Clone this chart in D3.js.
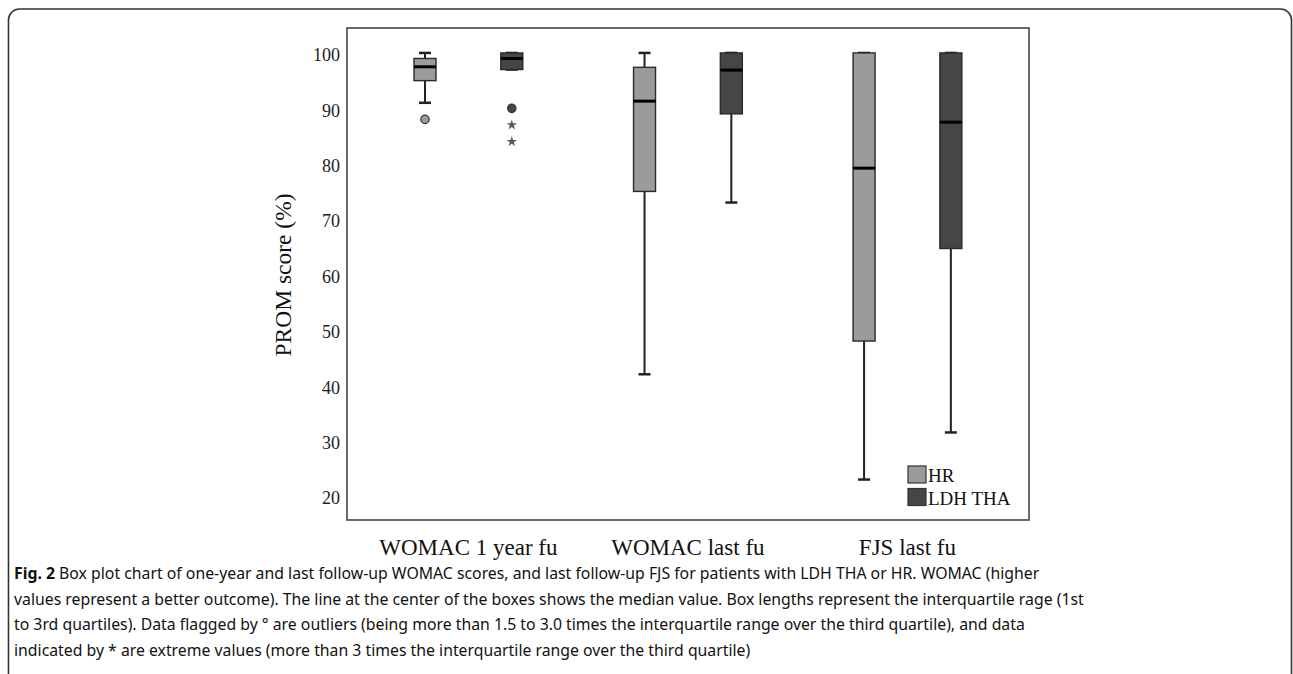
<!DOCTYPE html>
<html>
<head>
<meta charset="utf-8">
<script src="https://cdn.jsdelivr.net/npm/d3@7"></script>
<style>
body{margin:0;background:#fff;}
</style>
</head>
<body>
<div id="svgContainer"></div>
<script>
// data
var categories = ["WOMAC 1 year fu","WOMAC last fu","FJS last fu"];
var groups = ["HR","LDH THA"];
var hrMin = [91, 42, 23];
var hrQ1  = [95, 75, 48];
var hrMed = [97.5, 91.3, 79.2];
var hrQ3  = [99, 97.4, 100];
var hrMax = [100, 100, 100];
var ldhMin = [97, 73, 31.5];
var ldhQ1  = [97, 89, 64.7];
var ldhMed = [99, 96.9, 87.5];
var ldhQ3  = [100, 100, 100];
var ldhMax = [100, 100, 100];
// outliers (circle) and extreme values (star)
var outCat = ["WOMAC 1 year fu","WOMAC 1 year fu"];
var outGroup = ["HR","LDH THA"];
var outVal = [88, 90];
var extCat = ["WOMAC 1 year fu","WOMAC 1 year fu"];
var extGroup = ["LDH THA","LDH THA"];
var extVal = [87, 84];
var yTicks = [20,30,40,50,60,70,80,90,100];

var svgWidth = 1293, svgHeight = 674;
var colors = {"HR":"#9b9b9b","LDH THA":"#464646"};

var svg = d3.select("#svgContainer").append("svg")
	.attr("width",svgWidth)
	.attr("height",svgHeight)
	.style("display","block");

var plot = {left:347,top:28,right:1029,bottom:520};

// figure frame, open at the bottom
svg.append("rect")
	.attr("x",8.5).attr("y",9)
	.attr("width",1283).attr("height",720)
	.attr("rx",11)
	.attr("fill","none")
	.attr("stroke","#333")
	.attr("stroke-width",1.6);

var y = d3.scaleLinear().domain([15.7,104.5]).range([plot.bottom,plot.top]);
var x0 = d3.scaleBand().domain(categories).range([358.6,1017.2]);
var x1 = d3.scalePoint().domain(groups).range([66.4,153.2]);

// boxes
var boxes = [];
for(var i = 0; i < categories.length; i++){
	boxes.push({cat:categories[i],g:"HR",min:hrMin[i],q1:hrQ1[i],med:hrMed[i],q3:hrQ3[i],max:hrMax[i]});
	boxes.push({cat:categories[i],g:"LDH THA",min:ldhMin[i],q1:ldhQ1[i],med:ldhMed[i],q3:ldhQ3[i],max:ldhMax[i]});
}
function cx(d){ return x0(d.cat) + x1(d.g); }
var bw = 22, cap = 12;

svg.append("rect")
	.attr("x",plot.left).attr("y",plot.top)
	.attr("width",plot.right-plot.left).attr("height",plot.bottom-plot.top)
	.attr("fill","none")
	.attr("stroke","#444")
	.attr("stroke-width",1.6);

var b = svg.selectAll(".box").data(boxes).enter().append("g").attr("class","box");

b.append("line")
	.attr("x1",cx).attr("x2",cx)
	.attr("y1",function(d){return y(d.max)})
	.attr("y2",function(d){return y(d.min)})
	.attr("stroke","#222").attr("stroke-width",2);
b.append("line")
	.attr("x1",function(d){return cx(d)-cap/2}).attr("x2",function(d){return cx(d)+cap/2})
	.attr("y1",function(d){return y(d.max)}).attr("y2",function(d){return y(d.max)})
	.attr("stroke","#222").attr("stroke-width",2.5);
b.append("line")
	.attr("x1",function(d){return cx(d)-cap/2}).attr("x2",function(d){return cx(d)+cap/2})
	.attr("y1",function(d){return y(d.min)}).attr("y2",function(d){return y(d.min)})
	.attr("stroke","#222").attr("stroke-width",2.5);
b.append("rect")
	.attr("x",function(d){return cx(d)-bw/2})
	.attr("y",function(d){return y(d.q3)})
	.attr("width",bw)
	.attr("height",function(d){return y(d.q1)-y(d.q3)})
	.attr("fill",function(d){return colors[d.g]})
	.attr("stroke","#2a2a2a").attr("stroke-width",1.4);
b.append("line")
	.attr("x1",function(d){return cx(d)-bw/2}).attr("x2",function(d){return cx(d)+bw/2})
	.attr("y1",function(d){return y(d.med)}).attr("y2",function(d){return y(d.med)})
	.attr("stroke","#000").attr("stroke-width",3);

// outliers
svg.selectAll(".out").data(outVal).enter().append("circle")
	.attr("class","out")
	.attr("cx",function(d,i){return x0(outCat[i])+x1(outGroup[i])})
	.attr("cy",function(d){return y(d)})
	.attr("r",4.2)
	.attr("fill",function(d,i){return colors[outGroup[i]]})
	.attr("stroke","#333").attr("stroke-width",1.2);

svg.selectAll(".ext").data(extVal).enter().append("path")
	.attr("class","ext")
	.attr("d",d3.symbol().type(d3.symbolStar).size(34))
	.attr("transform",function(d,i){return "translate("+(x0(extCat[i])+x1(extGroup[i]))+","+y(d)+")"})
	.attr("fill","#5a5a5a");

// y axis labels
var yaxis = svg.append("g")
	.attr("transform","translate("+plot.left+",2)")
	.call(d3.axisLeft(y).tickValues(yTicks).tickSize(0).tickPadding(7));
yaxis.select(".domain").remove();
yaxis.selectAll("text")
	.attr("font-family","'Liberation Serif', 'Times New Roman', serif")
	.attr("font-size",18)
	.attr("fill","#222");

svg.append("text")
	.attr("transform","translate(291,275) rotate(-90)")
	.attr("text-anchor","middle")
	.attr("font-family","'Liberation Serif', serif")
	.attr("font-size",23.5)
	.attr("fill","#111")
	.text("PROM score (%)");

// category labels
svg.selectAll(".cat").data(categories).enter().append("text")
	.attr("class","cat")
	.attr("x",function(d){return x0(d)+x0.bandwidth()/2})
	.attr("y",555)
	.attr("text-anchor","middle")
	.attr("font-family","'Liberation Serif', serif")
	.attr("font-size",23)
	.attr("fill","#111")
	.text(function(d){return d});

// legend
var legend = svg.selectAll(".legend").data(groups).enter().append("g")
	.attr("class","legend")
	.attr("transform",function(d,i){return "translate(908,"+(466+i*22.5)+")"});
legend.append("rect")
	.attr("width",18).attr("height",17)
	.attr("fill",function(d){return colors[d]})
	.attr("stroke","#333").attr("stroke-width",1.2);
legend.append("text")
	.attr("x",20).attr("y",16)
	.attr("font-family","'Liberation Serif', serif")
	.attr("font-size",19)
	.attr("fill","#111")
	.text(function(d){return d});

// caption
var capLines = [
	["Fig. 2"," Box plot chart of one-year and last follow-up WOMAC scores, and last follow-up FJS for patients with LDH THA or HR. WOMAC (higher"],
	["","values represent a better outcome). The line at the center of the boxes shows the median value. Box lengths represent the interquartile rage (1st"],
	["","to 3rd quartiles). Data flagged by \u00b0 are outliers (being more than 1.5 to 3.0 times the interquartile range over the third quartile), and data"],
	["","indicated by * are extreme values (more than 3 times the interquartile range over the third quartile)"]
];
var caption = svg.append("g");
capLines.forEach(function(l,i){
	var t = caption.append("text")
		.attr("x",14)
		.attr("y",579+i*25.5)
		.attr("font-family","'Noto Sans', sans-serif")
		.attr("font-size",15.8)
		.attr("fill","#111");
	if(l[0]) t.append("tspan").attr("font-weight","bold").text(l[0]);
	t.append("tspan").text(l[1]);
});
</script>
</body>
</html>
